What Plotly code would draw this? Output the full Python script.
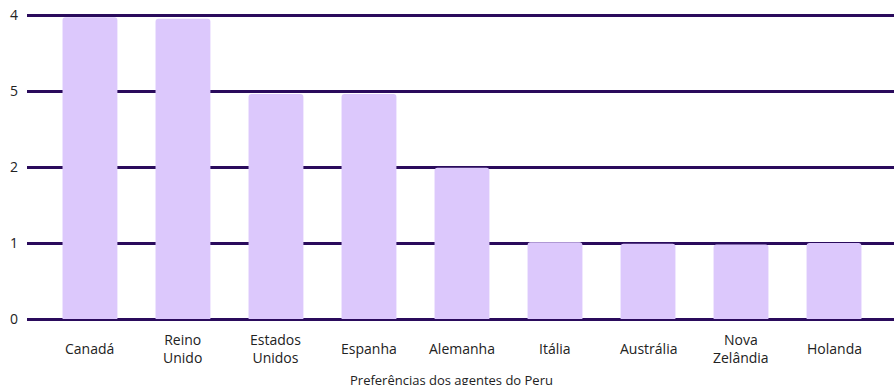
import plotly.graph_objects as go

categories = ["Canadá", "Reino Unido", "Estados Unidos", "Espanha", "Alemanha",
              "Itália", "Austrália", "Nova Zelândia", "Holanda"]
category_labels = ["Canadá", "Reino<br>Unido", "Estados<br>Unidos", "Espanha", "Alemanha",
                   "Itália", "Austrália", "Nova<br>Zelândia", "Holanda"]
values = [3.97, 3.95, 2.96, 2.96, 1.99, 1.01, 0.99, 0.98, 1.0]
y_tick_vals = [0, 1, 2, 3, 4]
y_tick_text = ["0", "1", "2", "5", "4"]
axis_title = "Preferências dos agentes do Peru"

GRID = "#2a0b5c"
BAR = "#dcc8fc"
FONT = "Open Sans, Noto Sans, sans-serif"

fig = go.Figure()
fig.add_trace(go.Bar(
    x=categories, y=values, width=0.59,
    marker=dict(color=BAR, line=dict(width=0), cornerradius=3),
    hoverinfo="skip",
))

annotations = []
for c, lab in zip(categories, category_labels):
    annotations.append(dict(x=c, xref="x", y=-0.0945, yref="paper", text=lab,
                            showarrow=False, xanchor="center", yanchor="middle",
                            font=dict(family=FONT, size=14, color="#222222")))
annotations.append(dict(x=0.49, xref="paper", y=-0.199, yref="paper", text=axis_title,
                        showarrow=False, xanchor="center", yanchor="middle",
                        font=dict(family=FONT, size=13, color="#222222")))

fig.update_layout(
    width=894, height=385,
    margin=dict(l=27, r=0, t=12, b=66),
    paper_bgcolor="white", plot_bgcolor="white",
    showlegend=False,
    font=dict(family=FONT, size=14, color="#222222"),
    annotations=annotations,
    xaxis=dict(
        type="category", range=[-0.677, 8.645], showticklabels=False,
        showgrid=False, zeroline=False, showline=False, ticks="",
    ),
    yaxis=dict(
        range=[0, 4.04], tickmode="array", tickvals=y_tick_vals, ticktext=y_tick_text,
        showgrid=True, gridcolor=GRID, gridwidth=3,
        zeroline=True, zerolinecolor=GRID, zerolinewidth=3,
        showline=False, ticks="", ticklabelstandoff=8, ticklabeloverflow="allow",
        tickfont=dict(family=FONT, size=14, color="#222222"),
    ),
)

fig.write_html(
    "out.html",
    config={"displayModeBar": False},
    post_script="document.body.style.margin='0';document.body.style.overflow='hidden';",
)
